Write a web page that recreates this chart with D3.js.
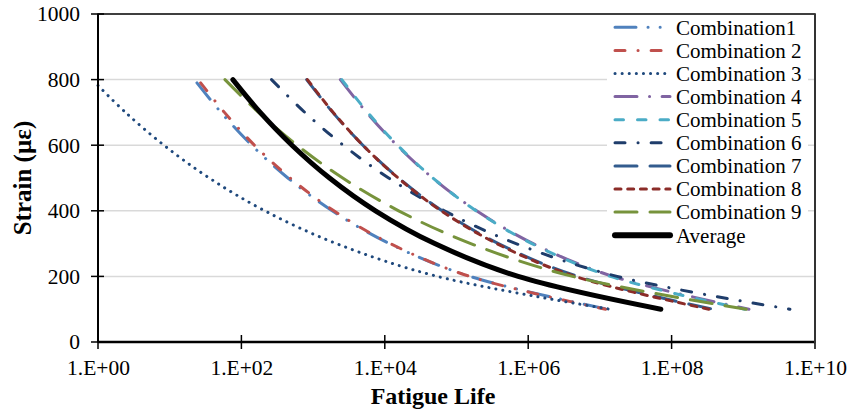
<!DOCTYPE html>
<html>
<head>
<meta charset="utf-8">
<script src="https://cdn.jsdelivr.net/npm/d3@7"></script>
<style>
  body { margin: 0; background: #fff; }
  text { font-family: "Liberation Serif", "Times New Roman", serif; fill: #000; }
</style>
</head>
<body>
<div id="chart"></div>
<script>
// strain levels (µε) and fatigue lives
const strainLevels = [800, 700, 600, 500, 400, 300, 200, 100];
const strain1 = [790, 700, 600, 500, 400, 300, 200, 100];
const strain3 = [782, 700, 600, 500, 400, 300, 200, 100];

const life1 = [24, 52, 139, 445, 1845, 11590, 154200, 12900000];
const life2 = [27, 58, 152, 479, 1950, 11940, 153100, 12000000];
const life3 = [1, 2.42, 8.3, 35.6, 212, 2118, 54200, 13800000];
const life4 = [2399, 5572, 14720, 46560, 190500, 1172000, 15140000, 1200000000];
const life5 = [2512, 5768, 15030, 46770, 187500, 1125000, 14030000, 1050000000];
const life6 = [263, 766, 2630, 11320, 67600, 676000, 17380000, 4470000000];
const life7 = [813, 1879, 4943, 15560, 63100, 384600, 4900000, 380000000];
const life8 = [832, 1905, 4943, 15350, 61100, 364800, 4500000, 330000000];
const life9 = [59, 173, 597, 2588, 15600, 158100, 4140000, 1100000000];
const lifeAvg = [76, 183, 507, 1694, 7413, 49660, 724400, 70800000];

const xTicks = [1, 1e2, 1e4, 1e6, 1e8, 1e10];
const yTicks = [0, 200, 400, 600, 800, 1000];

const series = [
  {name: "Combination1",  strain: strain1, life: life1, color: "#4F81BD", dash: "21 12 0.1 12 0.1 12", w: 3},
  {name: "Combination 2", strain: strain1, life: life2, color: "#C0504D", dash: "10 13 0.1 13", w: 3},
  {name: "Combination 3", strain: strain3, life: life3, color: "#1F497D", dash: "0.1 7", w: 3},
  {name: "Combination 4", strain: strainLevels, life: life4, color: "#8064A2", dash: "22 12.5 0.1 12.5", w: 3},
  {name: "Combination 5", strain: strainLevels, life: life5, color: "#4BACC6", dash: "8.5 14", w: 3},
  {name: "Combination 6", strain: strainLevels, life: life6, color: "#1F3D6B", dash: "10 13 0.1 13", w: 3},
  {name: "Combination 7", strain: strainLevels, life: life7, color: "#335C8E", dash: "22 13", w: 3},
  {name: "Combination 8", strain: strainLevels, life: life8, color: "#8B2C28", dash: "6 6.7", w: 3},
  {name: "Combination 9", strain: strainLevels, life: life9, color: "#77933C", dash: "22 13", w: 3},
  {name: "Average",       strain: strainLevels, life: lifeAvg, color: "#000000", dash: null, w: 5}
];

// set the dimensions and margins of the graph
const margin = {top: 14, right: 35, bottom: 73, left: 98},
      width = 850 - margin.left - margin.right,
      height = 415 - margin.top - margin.bottom;

const root = d3.select("#chart")
    .append("svg")
    .attr("width", 850)
    .attr("height", 415);

const svg = root.append("g")
    .attr("transform", `translate(${margin.left}, ${margin.top})`);

const x = d3.scaleLog().domain([1, 1e10]).range([0, width]);
const y = d3.scaleLinear().domain([0, 1000]).range([height, 0]);

// gridlines
svg.selectAll(".grid")
    .data(yTicks.filter(d => d > 0 && d < 1000))
    .join("line")
    .attr("x1", 0).attr("x2", width)
    .attr("y1", d => y(d)).attr("y2", d => y(d))
    .style("stroke", "#D9D9D9")
    .style("stroke-width", 1.5);

// plot frame
svg.append("rect")
    .attr("width", width).attr("height", height)
    .style("fill", "none")
    .style("stroke", "#000")
    .style("stroke-width", 1.5);

// lines
const line = d3.line()
    .x(d => x(d[0]))
    .y(d => y(d[1]))
    .curve(d3.curveCatmullRom.alpha(0.5));

series.forEach(s => {
  const pts = s.life.map((n, i) => [n, s.strain[i]]);
  svg.append("path")
      .datum(pts)
      .attr("d", line)
      .style("fill", "none")
      .style("stroke", s.color)
      .style("stroke-width", s.w)
      .style("stroke-linecap", "round")
      .style("stroke-dasharray", s.dash);
});

// axes
svg.append("g")
    .attr("transform", `translate(0, ${height})`)
    .call(d3.axisBottom(x).tickValues(xTicks).tickSize(0)
        .tickFormat(d => "1.E+" + String(Math.round(Math.log10(d))).padStart(2, "0")))
    .call(g => g.select(".domain").remove())
    .call(g => g.selectAll("text")
        .attr("y", 33).attr("dy", 0)
        .style("font-size", "21.5px")
        .style("font-family", "Liberation Serif"));

svg.append("g")
    .call(d3.axisLeft(y).tickValues(yTicks).tickSize(0).tickFormat(d3.format("d")))
    .call(g => g.select(".domain").remove())
    .call(g => g.selectAll("text")
        .attr("x", -18)
        .style("font-size", "21.5px")
        .style("font-family", "Liberation Serif"));

// cross tick marks
svg.selectAll(".xtick")
    .data(xTicks)
    .join("line")
    .attr("x1", d => x(d)).attr("x2", d => x(d))
    .attr("y1", height - 7).attr("y2", height + 7)
    .style("stroke", "#000").style("stroke-width", 1.5);

svg.selectAll(".ytick")
    .data(yTicks)
    .join("line")
    .attr("x1", -7).attr("x2", 6)
    .attr("y1", d => y(d)).attr("y2", d => y(d))
    .style("stroke", "#000").style("stroke-width", 1.5);

// axis lines
svg.append("line")
    .attr("x1", 0).attr("x2", 0).attr("y1", 0).attr("y2", height)
    .style("stroke", "#000").style("stroke-width", 2);
svg.append("line")
    .attr("x1", 0).attr("x2", width).attr("y1", height).attr("y2", height)
    .style("stroke", "#000").style("stroke-width", 2.5);
svg.append("line")
    .attr("x1", width).attr("x2", width).attr("y1", 0).attr("y2", height + 1)
    .style("stroke", "#333").style("stroke-width", 2);

// axis titles
root.append("text")
    .attr("x", 433)
    .attr("y", 404)
    .attr("text-anchor", "middle")
    .style("font-size", "24px")
    .style("font-weight", "bold")
    .text("Fatigue Life");

root.append("text")
    .attr("transform", "translate(31, 178) rotate(-90)")
    .attr("text-anchor", "middle")
    .style("font-size", "25px")
    .style("font-weight", "bold")
    .text("Strain (µε)");

// legend
const legend = root.append("g");
legend.append("rect")
    .attr("x", 607).attr("y", 15)
    .attr("width", 201).attr("height", 233)
    .style("fill", "#fff");

const rows = legend.selectAll(".legend")
    .data(series)
    .join("g")
    .attr("transform", (d, i) => `translate(0, ${27.3 + i * 23.1})`);

rows.append("line")
    .attr("x1", 615).attr("x2", 670)
    .style("stroke", d => d.color)
    .style("stroke-width", d => d.w === 5 ? 6 : 3)
    .style("stroke-linecap", "round")
    .style("stroke-dasharray", d => d.dash);

rows.append("text")
    .attr("x", 676)
    .attr("dy", "0.35em")
    .style("font-size", "21px")
    .text(d => d.name);
</script>
</body>
</html>
